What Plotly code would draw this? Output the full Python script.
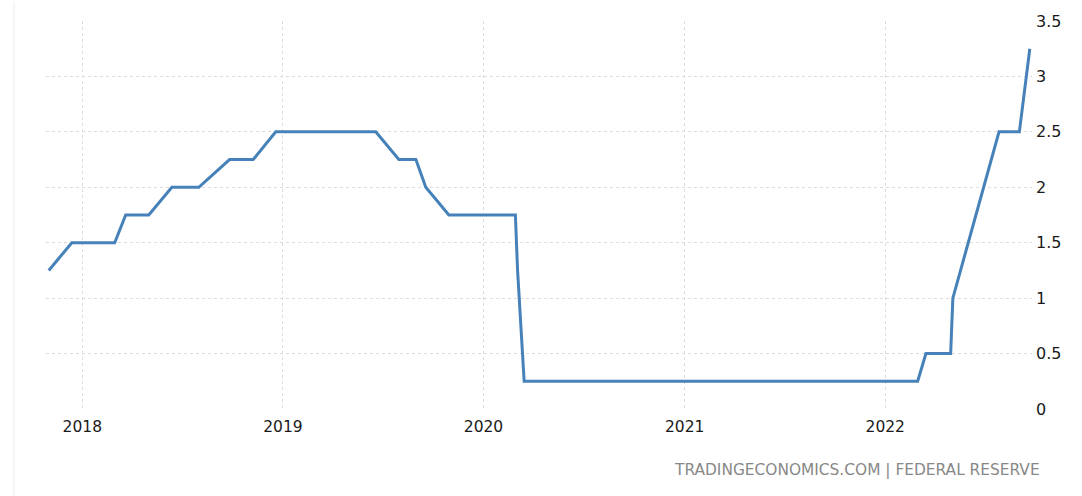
import plotly.graph_objects as go

# Data (US Fed funds rate, upper bound, %)
dates = [
    "2017-11-01", "2017-12-13", "2018-03-01", "2018-03-21", "2018-05-02",
    "2018-06-13", "2018-08-01", "2018-09-26", "2018-11-08", "2018-12-19",
    "2019-06-19", "2019-07-31", "2019-08-31", "2019-09-18", "2019-10-30",
    "2020-02-28", "2020-03-03", "2020-03-15", "2022-03-01", "2022-03-16",
    "2022-04-30", "2022-05-04", "2022-07-27", "2022-09-02", "2022-09-21",
]
rates = [
    1.25, 1.50, 1.50, 1.75, 1.75,
    2.00, 2.00, 2.25, 2.25, 2.50,
    2.50, 2.25, 2.25, 2.00, 1.75,
    1.75, 1.25, 0.25, 0.25, 0.50,
    0.50, 1.00, 2.50, 2.50, 3.25,
]
year_ticks = ["2018-01-01", "2019-01-01", "2020-01-01", "2021-01-01", "2022-01-01"]
year_labels = ["2018", "2019", "2020", "2021", "2022"]
y_ticks = [0, 0.5, 1, 1.5, 2, 2.5, 3, 3.5]
y_labels = ["0", "0.5", "1", "1.5", "2", "2.5", "3", "3.5"]
source_text = "TRADINGECONOMICS.COM | FEDERAL RESERVE"

FONT = "DejaVu Sans"

fig = go.Figure()
fig.add_trace(go.Scatter(
    x=dates, y=rates, mode="lines",
    line=dict(color="rgb(70,130,185)", width=3),
    hoverinfo="x+y", showlegend=False,
))

fig.update_layout(
    width=1082, height=496,
    margin=dict(l=46, r=50, t=17, b=87),
    paper_bgcolor="white", plot_bgcolor="white",
    font=dict(family=FONT, size=15, color="#1a1a1a"),
    xaxis=dict(
        range=["2017-10-27", "2022-09-25"],
        tickmode="array", tickvals=year_ticks, ticktext=year_labels,
        showgrid=True, gridcolor="#dcdcdc", griddash="dot", gridwidth=1,
        zeroline=False, showline=False, ticks="",
        ticklabelstandoff=6,
        tickfont=dict(family=FONT, size=15.5, color="#1a1a1a"),
    ),
    yaxis=dict(
        range=[0, 3.5], side="right",
        tickmode="array", tickvals=y_ticks, ticktext=y_labels,
        showgrid=True, gridcolor="#dcdcdc", griddash="dot", gridwidth=1,
        zeroline=False, showline=False, ticks="",
        ticklabelstandoff=3,
        tickfont=dict(family=FONT, size=16, color="#1a1a1a"),
    ),
    shapes=[dict(
        type="line", xref="paper", yref="paper",
        x0=-0.0325, x1=-0.0325, y0=-0.23, y1=1.05,
        line=dict(color="#ececec", width=1),
    )],
    annotations=[dict(
        text=source_text, xref="paper", yref="paper",
        x=1.0105, y=-0.156, xanchor="right", yanchor="middle",
        showarrow=False,
        font=dict(family=FONT, size=15.4, color="#888888"),
    )],
)

fig.write_html(
    "out.html",
    config={"displayModeBar": False},
    post_script="document.body.style.margin='0';document.body.style.overflow='hidden';",
)
